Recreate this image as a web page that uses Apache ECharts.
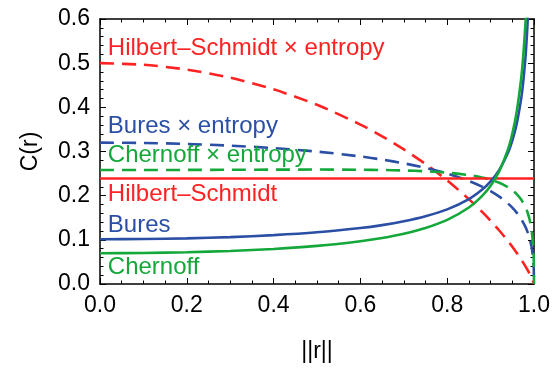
<!DOCTYPE html>
<html>
<head>
<meta charset="utf-8">
<script src="https://cdn.jsdelivr.net/npm/echarts@6/dist/echarts.min.js"></script>
<style>html,body{margin:0;padding:0;background:#fff;}#c{width:555px;height:368px;}</style>
</head>
<body>
<div id="c"></div>
<script>
// ---- data ----
var rSolid = [0,0.1,0.2,0.3,0.4,0.5,0.6,0.65,0.7,0.75,0.8,0.85,0.88,0.9,0.92,0.94,0.95,0.96,0.97,0.975,0.98,0.982,0.985,0.988,0.99];
var bures = [0.1013,0.1018,0.1034,0.1062,0.1106,0.1170,0.1267,0.1333,0.1419,0.1532,0.1689,0.1923,0.2133,0.2324,0.2585,0.2970,0.3245,0.3619,0.4168,0.456,0.5092,0.5364,0.5872,0.656,0.7182];
var chernoff = [0.0697,0.0702,0.0719,0.0748,0.0794,0.0863,0.0968,0.1042,0.1139,0.1269,0.1452,0.1733,0.1990,0.2227,0.2556,0.3047,0.3402,0.3890,0.4613,0.5133,0.5843,0.6208,0.6891,0.7819,0.866];
var rHS = [0, 1];
var hilbertSchmidt = [0.2387, 0.2387];
var rDash = [0,0.1,0.2,0.3,0.4,0.5,0.6,0.65,0.7,0.75,0.8,0.85,0.88,0.9,0.92,0.94,0.95,0.96,0.97,0.98,0.985,0.99,0.995,0.999,1];
var hsEntropy = [0.5,0.4964,0.4855,0.4671,0.4407,0.4057,0.3610,0.3345,0.3049,0.2718,0.2345,0.1922,0.1637,0.1432,0.1212,0.0972,0.0843,0.0708,0.0562,0.0404,0.0319,0.0227,0.0126,0.0031,0];
var buresEntropy = [0.32,0.3193,0.3171,0.3133,0.3077,0.2998,0.2888,0.2817,0.2732,0.2630,0.2501,0.2334,0.2206,0.2103,0.1978,0.1823,0.1728,0.1617,0.1480,0.1299,0.1181,0.1030,0.0807,0.0444,0];
var chernoffEntropy = [0.258,0.2581,0.2583,0.2586,0.2589,0.2591,0.2587,0.2581,0.2571,0.2552,0.2521,0.2466,0.2411,0.2361,0.2292,0.2192,0.2123,0.2037,0.1919,0.1747,0.1625,0.1455,0.1184,0.0685,0];
var xTicks = ['0.0','0.2','0.4','0.6','0.8','1.0'];
var yTicks = ['0.0','0.1','0.2','0.3','0.4','0.5','0.6'];
var labels = [
  {text:'Hilbert\u2013Schmidt \u00d7 entropy', color:'red', y:0.534},
  {text:'Bures \u00d7 entropy', color:'blue', y:0.357},
  {text:'Chernoff \u00d7 entropy', color:'green', y:0.292},
  {text:'Hilbert\u2013Schmidt', color:'red', y:0.204},
  {text:'Bures', color:'blue', y:0.132},
  {text:'Chernoff', color:'green', y:0.038}
];

var COL = {red:'#ff2222', blue:'#2a4fa5', green:'#14a83b'};
var FONT = 'Liberation Sans, Arial, sans-serif';

function pairs(xs, ys){ return xs.map(function(x,i){ return [x, ys[i]]; }); }

var chart = echarts.init(document.getElementById('c'), null, {renderer:'canvas'});

function axisCommon(showLabel, xy){
  return {
    type:'value',
    axisLine:{show:true, onZero:false, lineStyle:{color:'#000', width:1.5}},
    axisTick:{show:true, inside:true, length:6, lineStyle:{color:'#000', width:1}},
    minorTick:{show:true, splitNumber: xy==='x'?4:5, length:3.5, lineStyle:{color:'#000', width:1}},
    splitLine:{show:false},
    minorSplitLine:{show:false},
    axisLabel:{show:showLabel, color:'#000', fontSize:23, fontFamily:FONT, margin:10,
      formatter:function(v){ var arr = xy==='x'?xTicks:yTicks; var step = xy==='x'?0.2:0.1; var i=Math.round(v/step); return arr[i]!==undefined?arr[i]:''; }}
  };
}

var xb = axisCommon(true,'x'); xb.min=0; xb.max=1; xb.interval=0.2; xb.position='bottom';
xb.name='||r||'; xb.nameLocation='middle'; xb.nameGap=56; xb.nameTextStyle={color:'#000', fontSize:23, fontFamily:FONT};
var xt = axisCommon(false,'x'); xt.min=0; xt.max=1; xt.interval=0.2; xt.position='top';
var yl = axisCommon(true,'y'); yl.min=0; yl.max=0.6; yl.interval=0.1; yl.position='left';
yl.name='C(r)'; yl.nameLocation='middle'; yl.nameGap=58; yl.nameRotate=90; yl.nameTextStyle={color:'#000', fontSize:23, fontFamily:FONT};
var yr = axisCommon(false,'y'); yr.min=0; yr.max=0.6; yr.interval=0.1; yr.position='right';

function line(name, xs, ys, color, dashed, z){
  return {
    name:name, type:'line', xAxisIndex:0, yAxisIndex:0, data:pairs(xs,ys),
    showSymbol:false, symbol:'none', smooth:0.25, clip:true, z:z||2,
    lineStyle:{color:color, width:2.6, type: dashed?[14,8]:'solid'},
    animation:false
  };
}

chart.setOption({
  animation:false,
  backgroundColor:'#fff',
  grid:{left:100, right:21, top:19, bottom:82, containLabel:false},
  xAxis:[xb, xt],
  yAxis:[yl, yr],
  series:[
    line('Hilbert–Schmidt × entropy', rDash, hsEntropy, COL.red, true, 2),
    line('Bures × entropy', rDash, buresEntropy, COL.blue, true, 2),
    line('Chernoff × entropy', rDash, chernoffEntropy, COL.green, true, 2),
    line('Hilbert–Schmidt', rHS, hilbertSchmidt, COL.red, false, 3),
    line('Bures', rSolid, bures, COL.blue, false, 3),
    line('Chernoff', rSolid, chernoff, COL.green, false, 4)
  ]
});

// text labels placed in data coordinates
var g = labels.map(function(l){
  var p = chart.convertToPixel({xAxisIndex:0, yAxisIndex:0}, [0.018, l.y]);
  return {type:'text', x:p[0], y:p[1], z:10,
    style:{text:l.text, fill:COL[l.color], font:'24px '+FONT, align:'left', verticalAlign:'middle'}};
});
chart.setOption({graphic:g});
</script>
</body>
</html>
